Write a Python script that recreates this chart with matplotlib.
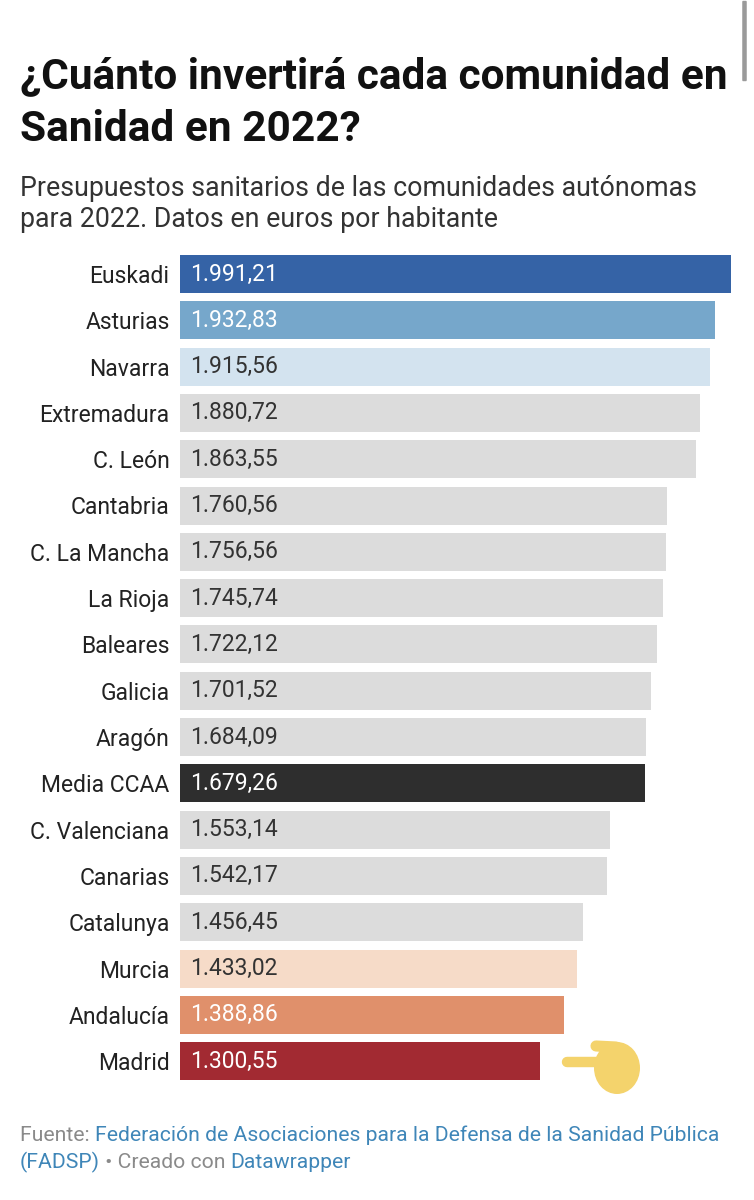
import matplotlib
matplotlib.use("Agg")
import matplotlib.pyplot as plt
from matplotlib.patches import FancyBboxPatch, Ellipse
from matplotlib.lines import Line2D

plt.rcParams['font.family'] = ['Roboto', 'DejaVu Sans']

regions = ["Euskadi", "Asturias", "Navarra", "Extremadura", "C. León", "Cantabria",
           "C. La Mancha", "La Rioja", "Baleares", "Galicia", "Aragón", "Media CCAA",
           "C. Valenciana", "Canarias", "Catalunya", "Murcia", "Andalucía", "Madrid"]
values = [1991.21, 1932.83, 1915.56, 1880.72, 1863.55, 1760.56,
          1756.56, 1745.74, 1722.12, 1701.52, 1684.09, 1679.26,
          1553.14, 1542.17, 1456.45, 1433.02, 1388.86, 1300.55]

GREY = '#dcdcdc'
colors = ['#3563a6', '#76a7cb', '#d3e3ef', GREY, GREY, GREY, GREY, GREY, GREY, GREY,
          GREY, '#2e2e2e', GREY, GREY, GREY, '#f6dbc8', '#e0906b', '#a22a32']
text_colors = ['white', 'white', '#333333'] + ['#333333'] * 8 + ['white'] + \
              ['#333333'] * 4 + ['white', 'white']

W, H = 754, 1200


def fx(px):
    return px / W


def fy(py):
    return 1 - py / H


def fmt(v):
    s = f"{v:,.2f}"
    return s.replace(",", "X").replace(".", ",").replace("X", ".")


fig = plt.figure(figsize=(W / 100, H / 100), dpi=100)
fig.patch.set_facecolor('white')

# bar area, in pixels
row0, step = 274, 46.3
n = len(values)
top = row0 - step / 2
bottom = row0 + step * (n - 1) + step / 2
ax = fig.add_axes([fx(180), fy(bottom), fx(731) - fx(180), (bottom - top) / H])
ax.barh(range(n), values, height=38 / step, color=colors, linewidth=0)
ax.set_xlim(0, values[0])
ax.set_ylim(n - 0.5, -0.5)
ax.set_yticks(range(n))
ax.set_yticklabels(regions, fontsize=16.5, color='#222222')
ax.tick_params(axis='y', length=0, pad=7.5)
ax.set_xticks([])
for s in ax.spines.values():
    s.set_visible(False)

for i, v in enumerate(values):
    ax.annotate(fmt(v), (0, i), xytext=(7.5, 0), textcoords='offset points',
                ha='left', va='center', fontsize=16.5, color=text_colors[i])

# title and subtitle
fig.text(fx(20), fy(88), "¿Cuánto invertirá cada comunidad en", fontsize=30.5,
         fontweight='bold', color='#111111', va='baseline')
fig.text(fx(20), fy(141), "Sanidad en 2022?", fontsize=30.5,
         fontweight='bold', color='#111111', va='baseline')
fig.text(fx(20), fy(196), "Presupuestos sanitarios de las comunidades autónomas",
         fontsize=19.3, color='#333333', va='baseline')
fig.text(fx(20), fy(227), "para 2022. Datos en euros por habitante",
         fontsize=19.3, color='#333333', va='baseline')

# footer with mixed colours
GREY_T = '#8a8a8a'
BLUE_T = '#3f86b8'
renderer = fig.canvas.get_renderer()


def chain(x, y, parts):
    for txt, col in parts:
        t = fig.text(fx(x), fy(y), txt, fontsize=15.2, color=col, va='baseline')
        x += t.get_window_extent(renderer).width


chain(20, 1141, [("Fuente: ", GREY_T),
                 ("Federación de Asociaciones para la Defensa de la Sanidad Pública", BLUE_T)])
chain(20, 1168, [("(FADSP)", BLUE_T), (" • Creado con ", GREY_T), ("Datawrapper", BLUE_T)])

# pointing hand next to Madrid
HAND = '#f4d36c'
fig.add_artist(Line2D([fx(567), fx(612)], [fy(1062), fy(1062)], transform=fig.transFigure,
                      color=HAND, linewidth=7.5, solid_capstyle='round'))
fig.add_artist(Line2D([fx(596), fx(616)], [fy(1046), fy(1047)], transform=fig.transFigure,
                      color=HAND, linewidth=8, solid_capstyle='round'))
fig.add_artist(Ellipse((fx(617), fy(1068)), 46 / W, 52 / H,
                       transform=fig.transFigure, color=HAND, linewidth=0))

# scrollbar of the screenshot
fig.add_artist(FancyBboxPatch((fx(743), fy(80)), 3 / W, 78 / H,
                              boxstyle="round,pad=0.001", transform=fig.transFigure,
                              color='#9a9a9a', linewidth=0))

fig.savefig("out.png", dpi=100)
